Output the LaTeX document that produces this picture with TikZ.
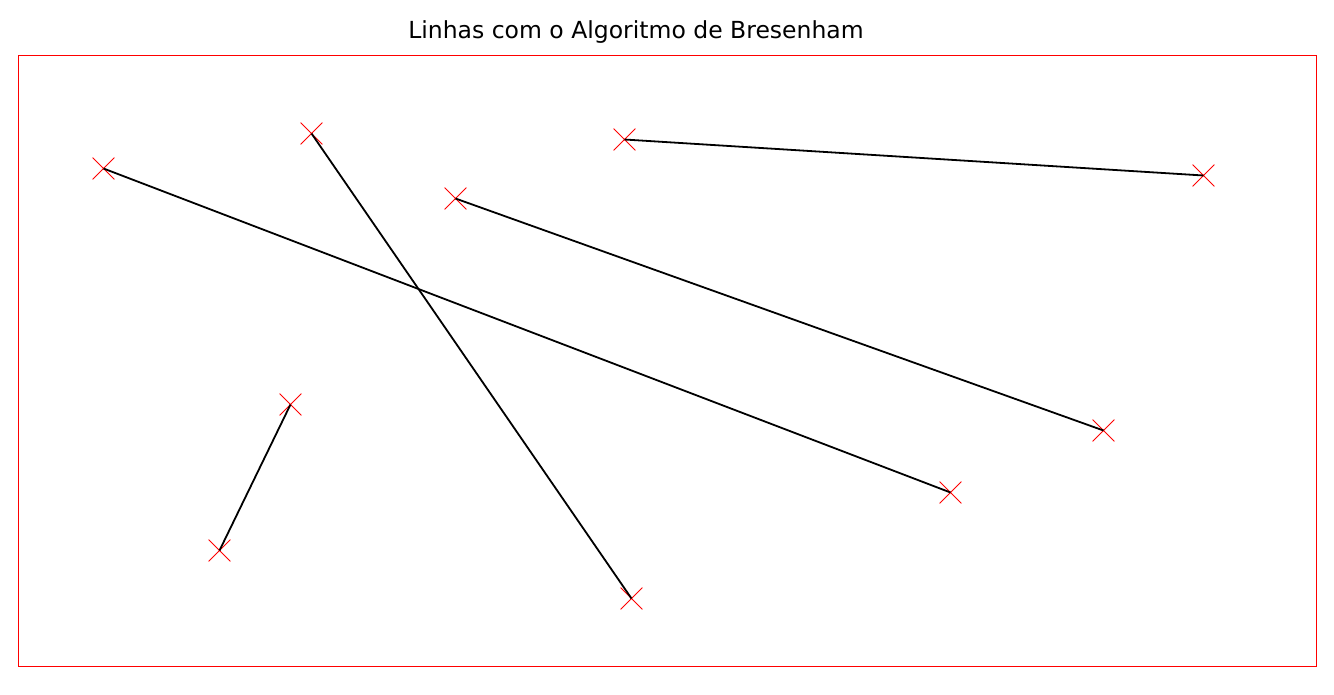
\documentclass[tikz,border=0pt]{standalone}
\usepackage{fontspec}
\setmainfont{DejaVu Sans}
\usetikzlibrary{shapes.misc}
\begin{document}
\begin{tikzpicture}[x=1pt,y=-1pt,
  pt/.style={cross out,draw=red,line width=0.8pt,minimum size=21pt,inner sep=0pt},
  seg/.style={draw=black,line width=1.8pt},
  frame/.style={draw=red,line width=1pt}]
\useasboundingbox (0,0) rectangle (1334,694);
\node[font=\fontsize{23.5}{28}\selectfont,anchor=base,inner sep=0pt] (title) at (636,38) {Linhas com o Algoritmo de Bresenham};
\draw[frame] (18.5,55.5) rectangle (1316.5,666.5);
\node[pt] (a1) at (103.5,168.5) {};
\node[pt] (a2) at (950.5,492.5) {};
\node[pt] (b1) at (311.5,133.5) {};
\node[pt] (b2) at (631.5,598.5) {};
\node[pt] (c1) at (455.5,198.5) {};
\node[pt] (c2) at (1103.5,430.5) {};
\node[pt] (d1) at (624.5,139.5) {};
\node[pt] (d2) at (1203.5,175.5) {};
\node[pt] (e1) at (290.5,404.5) {};
\node[pt] (e2) at (219.5,550.5) {};
\draw[seg] (a1.center) -- (a2.center);
\draw[seg] (b1.center) -- (b2.center);
\draw[seg] (c1.center) -- (c2.center);
\draw[seg] (d1.center) -- (d2.center);
\draw[seg] (e1.center) -- (e2.center);
\end{tikzpicture}
\end{document}
